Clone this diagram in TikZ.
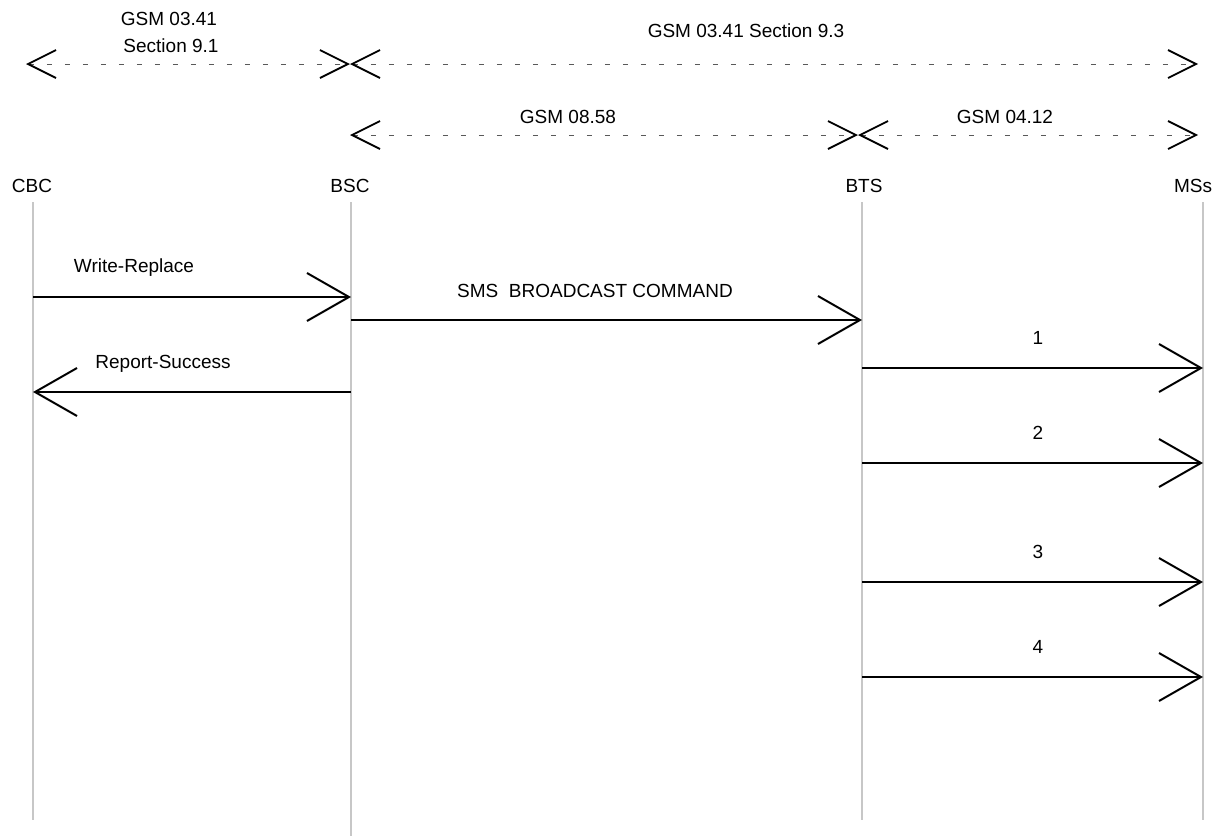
\documentclass[tikz,border=0pt]{standalone}
\usepackage{fontspec}
\setmainfont{Liberation Sans}
\usetikzlibrary{arrows.meta}
\begin{document}
\begin{tikzpicture}[x=1pt,y=-1pt,
  lbl/.style={anchor=base,inner sep=0pt,font=\fontsize{19}{22}\selectfont},
  lifeline/.style={draw=black!22,line width=2pt},
  msg/.style={draw=black,line width=2.2pt,-{Straight Barb[length=42pt,width=48pt,line width=2pt]}},
  spec/.style={draw=black!65,line width=1pt,dash pattern=on 5pt off 13pt,
    {Straight Barb[length=28pt,width=28pt,line width=1.8pt,color=black]}-{Straight Barb[length=28pt,width=28pt,line width=1.8pt,color=black]}}
]
\useasboundingbox (0,0) rectangle (1223,839);

% lifeline heads
\node[lbl] (cbc) at (32,192) {CBC};
\node[lbl] (bsc) at (350,192) {BSC};
\node[lbl] (bts) at (864,192) {BTS};
\node[lbl] (mss) at (1193,192) {MSs};

% lifelines
\coordinate (cbcT) at (33,202);  \coordinate (cbcB) at (33,820);
\coordinate (bscT) at (351,202); \coordinate (bscB) at (351,836);
\coordinate (btsT) at (862,202); \coordinate (btsB) at (862,820);
\coordinate (mssT) at (1203,202);\coordinate (mssB) at (1203,820);
\draw[lifeline] (cbcT) -- (cbcB);
\draw[lifeline] (bscT) -- (bscB);
\draw[lifeline] (btsT) -- (btsB);
\draw[lifeline] (mssT) -- (mssB);

% specification ranges
\coordinate (s1a) at (26,64);  \coordinate (s1b) at (350,64); \coordinate (s1c) at (1198,64);
\coordinate (s2a) at (350,135); \coordinate (s2b) at (858,135); \coordinate (s2c) at (1198,135);
\draw[spec] (s1a) -- (s1b);
\draw[spec] (s1b) -- (s1c);
\draw[spec] (s2a) -- (s2b);
\draw[spec] (s2b) -- (s2c);
\node[lbl] (t1) at (169,25) {GSM 03.41};
\node[lbl] (t2) at (171,52) {Section 9.1};
\node[lbl] (t3) at (746,37) {GSM 03.41 Section 9.3};
\node[lbl] (t4) at (568,123) {GSM 08.58};
\node[lbl] (t5) at (1005,123) {GSM 04.12};

% messages
\coordinate (m1s) at (33,297);  \coordinate (m1e) at (351,297);
\coordinate (m2s) at (351,320); \coordinate (m2e) at (862,320);
\coordinate (m3s) at (351,392); \coordinate (m3e) at (33,392);
\coordinate (a1s) at (862,368); \coordinate (a1e) at (1203,368);
\coordinate (a2s) at (862,463); \coordinate (a2e) at (1203,463);
\coordinate (a3s) at (862,582); \coordinate (a3e) at (1203,582);
\coordinate (a4s) at (862,677); \coordinate (a4e) at (1203,677);
\draw[msg] (m1s) -- (m1e);
\draw[msg] (m2s) -- (m2e);
\draw[msg] (m3s) -- (m3e);
\draw[msg] (a1s) -- (a1e);
\draw[msg] (a2s) -- (a2e);
\draw[msg] (a3s) -- (a3e);
\draw[msg] (a4s) -- (a4e);
\node[lbl] (l1) at (134,272) {Write-Replace};
\node[lbl] (l2) at (595,297) {SMS\ \ BROADCAST COMMAND};
\node[lbl] (l3) at (163,368) {Report-Success};
\node[lbl] (n1) at (1038,344) {1};
\node[lbl] (n2) at (1038,439) {2};
\node[lbl] (n3) at (1038,558) {3};
\node[lbl] (n4) at (1038,653) {4};
\end{tikzpicture}
\end{document}
